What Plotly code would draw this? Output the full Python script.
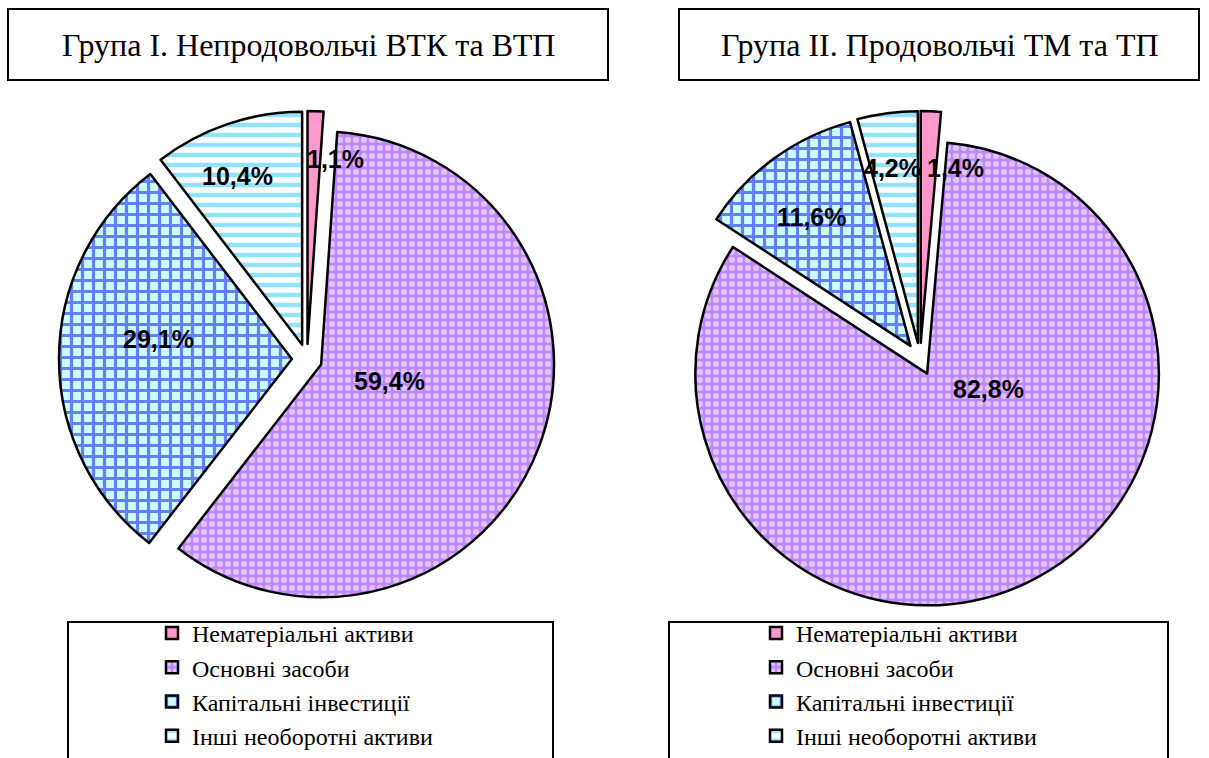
import plotly.graph_objects as go

W, H = 1209, 758

categories = ["Нематеріальні активи", "Основні засоби", "Капітальні інвестиції", "Інші необоротні активи"]
values_g1 = [1.1, 59.4, 29.1, 10.4]
values_g2 = [1.4, 82.8, 11.6, 4.2]
title_g1 = "Група І. Непродовольчі ВТК та ВТП"
title_g2 = "Група ІІ. Продовольчі ТМ та ТП"

# styles
slice_colors = ["#FF99CC", "#CC99FF", "#CCFFFF", "#FFFFFF"]
pattern = dict(
    shape=["", ".", "+", "-"],
    fgcolor=["#FF99CC", "#FFFFFF", "#0000FF", "#22C8F8"],
    bgcolor=["#FF99CC", "#C088FF", "#CCFFFF", "#FFFFFF"],
    size=[8, 8, 11, 10],
    solidity=[0.3, 0.45, 0.5, 0.45],
    fillmode="overlay",
)

SERIF = "Times New Roman, Liberation Serif, serif"
SANS = "Arial, Liberation Sans, sans-serif"

def px_x(x):
    return x / W

def px_y(y):
    return 1 - y / H

# label anchor positions (pixels) for percentage labels
label_pos_g1 = [(335, 159), (389, 381), (158, 339), (237, 176)]
label_pos_g2 = [(955, 168), (988, 389), (812, 217), (892, 168)]

line_style = dict(color="black", width=2.5)

fig = go.Figure()
fig.add_trace(go.Pie(
    labels=categories, values=values_g1, sort=False, direction="clockwise", rotation=0,
    pull=[0.065] * 4, textinfo="none", hoverinfo="label+percent",
    marker=dict(colors=slice_colors, line=line_style, pattern=pattern),
    domain=dict(x=[px_x(59), px_x(555)], y=[px_y(607), px_y(111)]),
    legend="legend", showlegend=True,
))
# zero-width space keeps the second pie's legend entries separate from the first pie's
fig.add_trace(go.Pie(
    labels=[c + "\u200b" for c in categories], values=values_g2, sort=False, direction="clockwise", rotation=0,
    pull=[0.07] * 4, textinfo="none", hoverinfo="label+percent",
    marker=dict(colors=slice_colors, line=line_style, pattern=pattern),
    domain=dict(x=[px_x(672), px_x(1168)], y=[px_y(607), px_y(111)]),
    legend="legend2", showlegend=True,
))

def fmt(v):
    return f"{v:.1f}%".replace(".", ",")

annotations = []
for vals, poss in ((values_g1, label_pos_g1), (values_g2, label_pos_g2)):
    for v, (x, y) in zip(vals, poss):
        annotations.append(dict(
            x=px_x(x), y=px_y(y), xref="paper", yref="paper", text=f"<b>{fmt(v)}</b>",
            showarrow=False, font=dict(family=SANS, size=25, color="black"),
            xanchor="center", yanchor="middle"))

annotations.append(dict(x=px_x(308), y=px_y(45), xref="paper", yref="paper", text=title_g1,
                        showarrow=False, font=dict(family=SERIF, size=32, color="black"),
                        xanchor="center", yanchor="middle"))
annotations.append(dict(x=px_x(940), y=px_y(45), xref="paper", yref="paper", text=title_g2,
                        showarrow=False, font=dict(family=SERIF, size=32, color="black"),
                        xanchor="center", yanchor="middle"))

shapes = [
    dict(type="rect", xref="paper", yref="paper", x0=px_x(8), x1=px_x(608), y0=px_y(80), y1=px_y(9),
         line=dict(color="black", width=2)),
    dict(type="rect", xref="paper", yref="paper", x0=px_x(679), x1=px_x(1199), y0=px_y(80), y1=px_y(9),
         line=dict(color="black", width=2)),
    dict(type="rect", xref="paper", yref="paper", x0=px_x(68), x1=px_x(553), y0=px_y(775), y1=px_y(622),
         line=dict(color="black", width=2)),
    dict(type="rect", xref="paper", yref="paper", x0=px_x(669), x1=px_x(1168), y0=px_y(775), y1=px_y(622),
         line=dict(color="black", width=2)),
]

legend_style = dict(font=dict(family=SERIF, size=24, color="black"), bgcolor="rgba(0,0,0,0)",
                    borderwidth=0, xanchor="left", yanchor="bottom", itemclick=False, itemdoubleclick=False)

fig.update_layout(
    width=W, height=H, margin=dict(l=0, r=0, t=0, b=0),
    paper_bgcolor="white", plot_bgcolor="white",
    annotations=annotations, shapes=shapes,
    legend=dict(x=px_x(152), y=0, **legend_style),
    legend2=dict(x=px_x(756), y=0, **legend_style),
)

# remove the default 8px page margin so the figure fills the 1209x758 window exactly
fig.write_html("out.html", config={"displayModeBar": False},
               post_script="document.body.style.margin='0px';")
